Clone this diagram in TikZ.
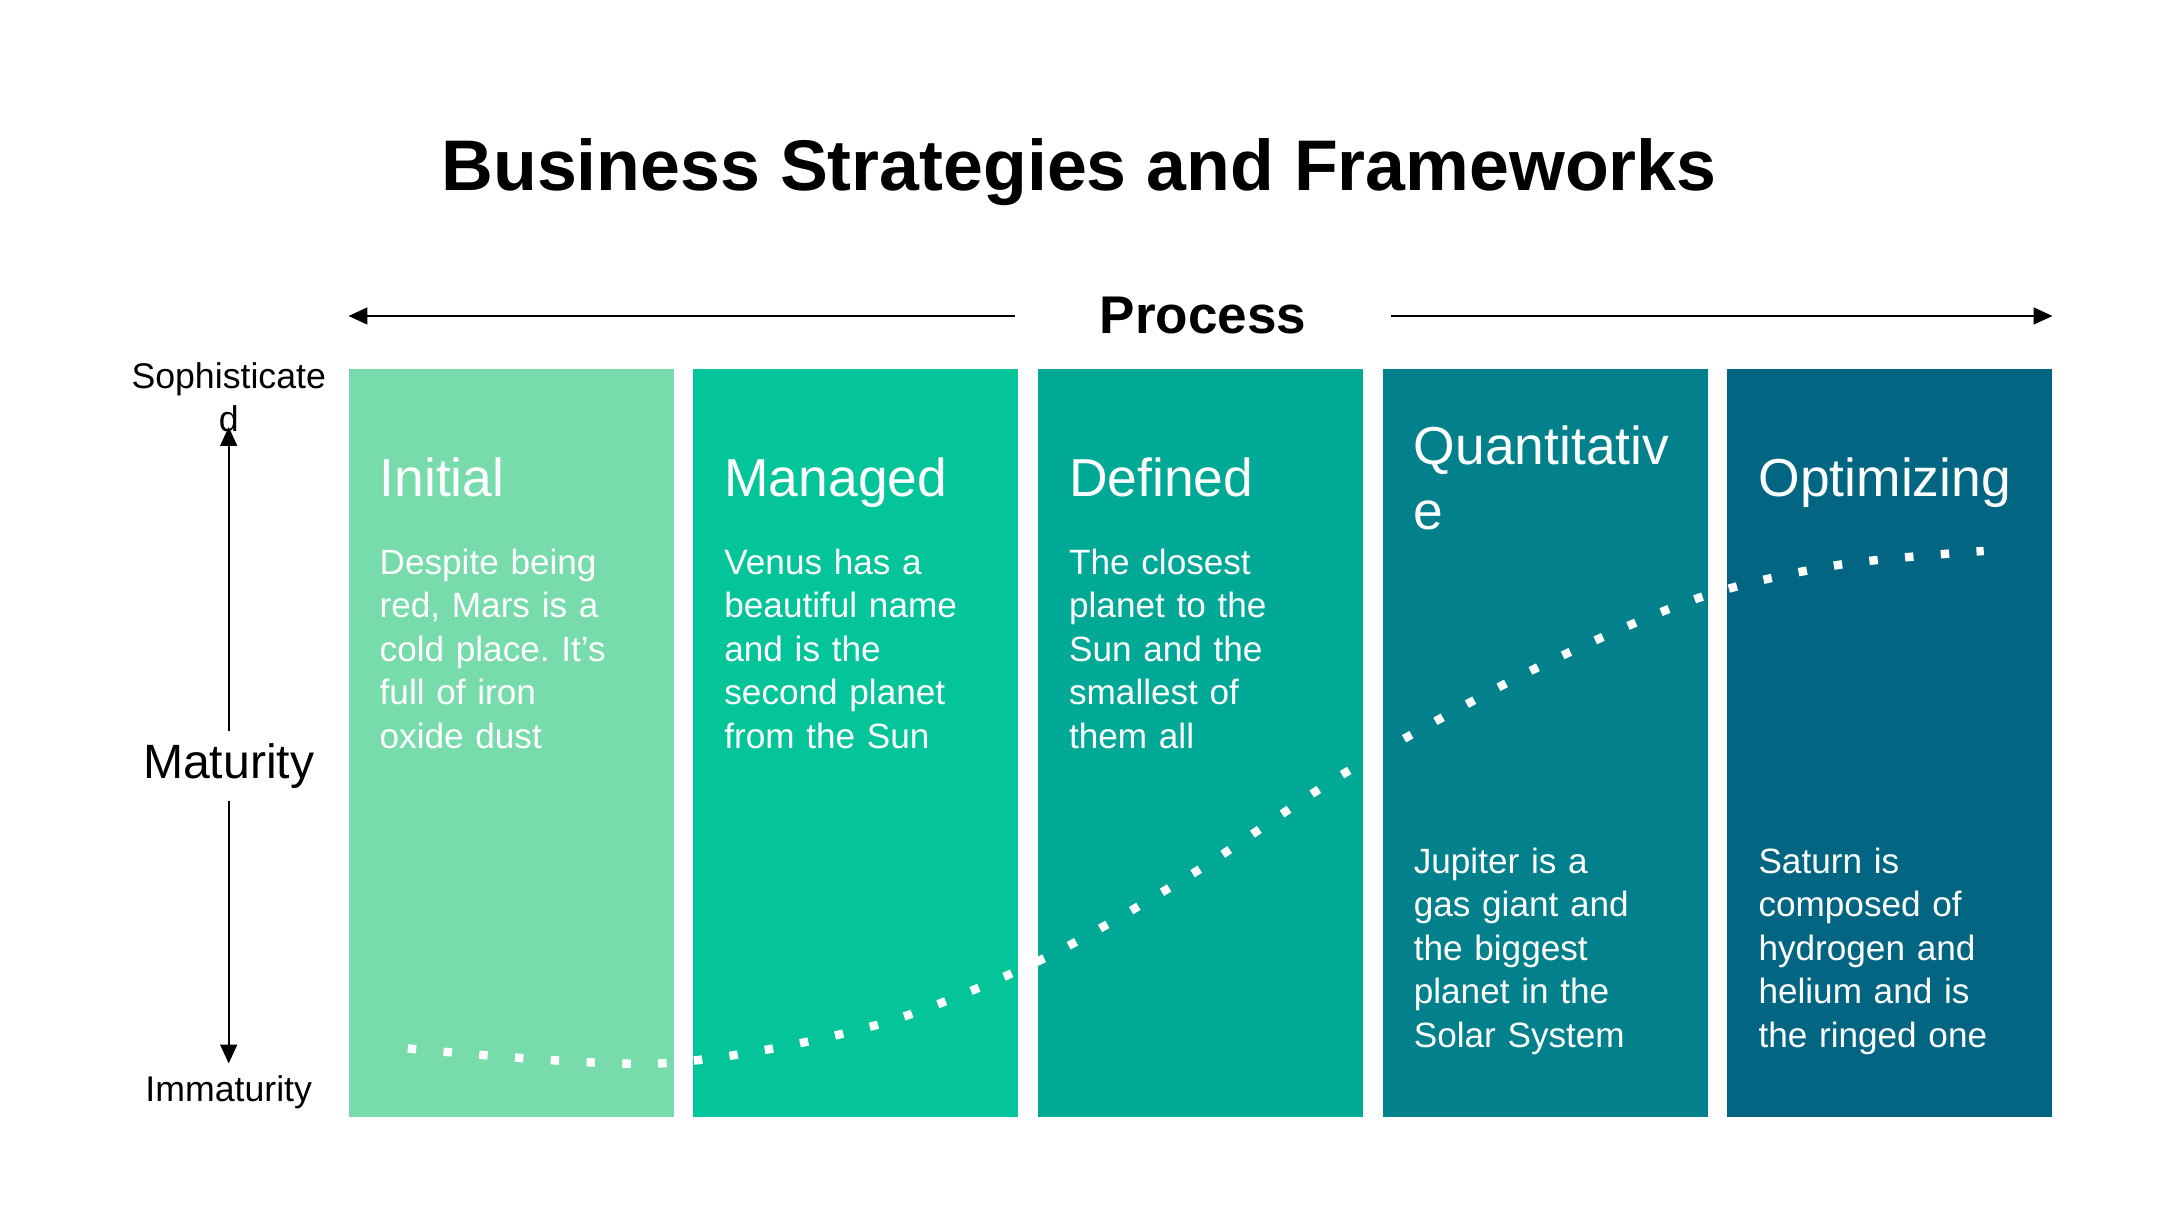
\documentclass[tikz,border=0pt]{standalone}
\usepackage{fontspec}
\setmainfont{Liberation Sans}
\usetikzlibrary{calc}
\usetikzlibrary{arrows.meta}
\definecolor{lvA}{HTML}{78DBAB}
\definecolor{lvB}{HTML}{04C49A}
\definecolor{lvC}{HTML}{00A896}
\definecolor{lvD}{HTML}{02808C}
\definecolor{lvE}{HTML}{026683}
\frenchspacing
\tikzset{
  stage/.style={anchor=north west, minimum width=3.25cm, minimum height=7.48cm, inner sep=0pt, outer sep=0pt},
  stagehead/.style={anchor=base west, text width=3cm, align=left, inner sep=0pt, text=white, font=\fontsize{15.2}{18.4}\selectfont},
  stagetext/.style={anchor=base west, text width=3cm, align=left, inner sep=0pt, text=white, font=\fontsize{10}{12.35}\selectfont},
  axisarrow/.style={line width=0.6pt, -{Triangle[length=5.4pt, width=4.8pt]}},
}

\begin{document}
\begin{tikzpicture}
\useasboundingbox (0,0) rectangle (21.6,12.15);
% title
\node[anchor=base, font=\bfseries\fontsize{20.4}{24}\selectfont] (title) at (10.79,10.24) {Business Strategies and Frameworks};
% stages
\foreach \i/\col in {1/lvA,2/lvB,3/lvC,4/lvD,5/lvE}
  \node[stage, fill=\col] (b\i) at ({3.485+(\i-1)*3.447},8.46) {};
\node[stagehead] (h1) at ($(b1.north west)+(0.305,-1.28)$) {Initial};
\node[stagehead] (h2) at ($(b2.north west)+(0.305,-1.28)$) {Managed};
\node[stagehead] (h3) at ($(b3.north west)+(0.305,-1.28)$) {Defined};
\node[stagehead] (h4) at ($(b4.north west)+(0.305,-0.96)$) {Quantitativ\\e};
\node[stagehead] (h5) at ($(b5.north west)+(0.305,-1.28)$) {Optimizing};
\node[stagetext] (t1) at ($(b1.north west)+(0.305,-2.055)$) {Despite being\\red, Mars is a\\cold place. It’s\\full of iron\\oxide dust};
\node[stagetext] (t2) at ($(b2.north west)+(0.305,-2.055)$) {Venus has a\\beautiful name\\and is the\\second planet\\from the Sun};
\node[stagetext] (t3) at ($(b3.north west)+(0.305,-2.055)$) {The closest\\planet to the\\Sun and the\\smallest of\\them all};
\node[stagetext] (t4) at ($(b4.north west)+(0.305,-5.044)$) {Jupiter is a\\gas giant and\\the biggest\\planet in the\\Solar System};
\node[stagetext] (t5) at ($(b5.north west)+(0.305,-5.044)$) {Saturn is\\composed of\\hydrogen and\\helium and is\\the ringed one};
% maturity curve
\draw[white, line width=2.4pt, dash pattern=on 2.4pt off 7.8pt] plot[smooth] coordinates {(4.078,1.666) (6.585,1.515) (8.72,1.887) (10.401,2.548) (11.93,3.416) (13.473,4.435) (15.333,5.455) (16.986,6.171) (18.391,6.502) (19.837,6.64)};
% process axis
\node[font=\bfseries\fontsize{15.1}{18}\selectfont, inner xsep=24pt] (proc) at (12.03,8.99) {Process};
\coordinate (pl) at (3.485,8.99);
\coordinate (pr) at (20.525,8.99);
\draw[axisarrow] (proc.west) -- (pl);
\draw[axisarrow] (proc.east) -- (pr);
% maturity axis
\node[align=center, font=\fontsize{10.15}{12.3}\selectfont] (soph) at (2.287,8.18) {Sophisticate\\d};
\node[font=\fontsize{13.7}{16}\selectfont] (mat) at (2.287,4.49) {Maturity};
\node[font=\fontsize{10.15}{12.3}\selectfont] (immat) at (2.287,1.226) {Immaturity};
\coordinate (mtop) at (2.287,7.88);
\coordinate (mbot) at (2.287,1.515);
\draw[axisarrow] (mat.north) -- (mtop);
\draw[axisarrow] (mat.south) -- (mbot);
\end{tikzpicture}
\end{document}
